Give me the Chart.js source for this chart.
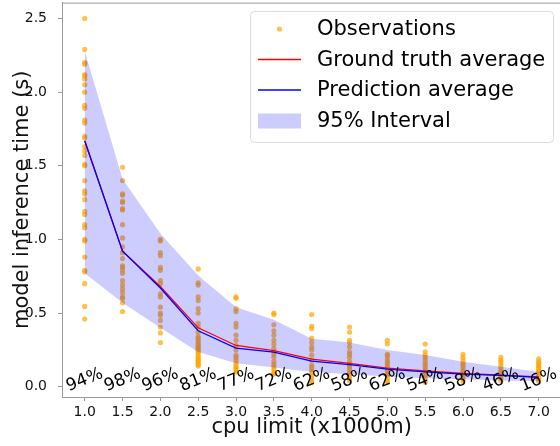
<!DOCTYPE html>
<html>
<head>
<meta charset="utf-8">
<script src="https://cdn.jsdelivr.net/npm/chart.js@4.4.1/dist/chart.umd.min.js"></script>
<style>
html,body{margin:0;padding:0;overflow:hidden;background:#fff;width:560px;height:446px;}
canvas{display:block;}
</style>
</head>
<body>
<canvas id="c" width="564" height="446"></canvas>
<script>
// ---- data ----
const cpuLimits = [1.0,1.5,2.0,2.5,3.0,3.5,4.0,4.5,5.0,5.5,6.0,6.5,7.0];
const xTicks = [1.0,1.5,2.0,2.5,3.0,3.5,4.0,4.5,5.0,5.5,6.0,6.5,7.0];
const yTicks = [0.0,0.5,1.0,1.5,2.0,2.5];
const accuracyLabels = ["94%","98%","96%","81%","77%","72%","62%","58%","62%","54%","58%","46%","16%"];
const groundTruthAvg = [1.67,0.92,0.68,0.40,0.28,0.245,0.187,0.158,0.126,0.108,0.09,0.079,0.066];
const predictionAvg  = [1.67,0.92,0.67,0.38,0.262,0.235,0.174,0.15,0.12,0.101,0.086,0.077,0.064];
const intervalUpper  = [2.28,1.41,1.04,0.755,0.54,0.455,0.325,0.30,0.25,0.215,0.17,0.135,0.10];
const intervalLower  = [0.77,0.57,0.40,0.235,0.16,0.13,0.10,0.085,0.07,0.057,0.05,0.043,0.038];
const obs10 = [2.50,2.29,2.20,2.19,2.12,2.11,2.09,2.05,2.00,1.91,1.89,1.81,1.79,1.70,1.69,1.63,1.60,1.57,1.51,1.50,1.40,1.33,1.31,1.27,1.19,1.17,1.10,1.08,1.00,0.99,0.88,0.79,0.78,0.70,0.545,0.46];
const obs15 = [1.49,1.40,1.31,1.30,1.26,1.25,1.21,1.20,1.10,1.01,0.95,0.91,0.87,0.82,0.81,0.79,0.77,0.72,0.69,0.665,0.64,0.61,0.60,0.57,0.51];
const obs20 = [1.00,0.99,0.91,0.89,0.81,0.79,0.72,0.70,0.63,0.61,0.54,0.50,0.485,0.45,0.405,0.365,0.30];
const obs25 = [0.80,0.705,0.69,0.61,0.585,0.53,0.50,0.43,0.405,0.37,0.34,0.33,0.315,0.30,0.29,0.28,0.27,0.26,0.25,0.24,0.226,0.21,0.20,0.19,0.18,0.17,0.158,0.15,0.14];
const obs30 = [0.61,0.60,0.53,0.51,0.43,0.405,0.35,0.315,0.28,0.25,0.214,0.20,0.18,0.16,0.146,0.13,0.124,0.11,0.10];
const obs35 = [0.50,0.49,0.42,0.38,0.35,0.315,0.29,0.26,0.237,0.22,0.20,0.17,0.15,0.135,0.12,0.10,0.09,0.086];
const obs40 = [0.49,0.41,0.395,0.33,0.30,0.27,0.25,0.214,0.18,0.146,0.13,0.113,0.10,0.08,0.06,0.045,0.027];
const obs45 = [0.405,0.37,0.315,0.30,0.27,0.237,0.22,0.20,0.17,0.15,0.135,0.12,0.10,0.085,0.068,0.055,0.04];
const obs50 = [0.315,0.29,0.22,0.21,0.19,0.17,0.158,0.14,0.124,0.11,0.09,0.075,0.057,0.04,0.027];
const obs55 = [0.29,0.237,0.214,0.20,0.18,0.16,0.146,0.13,0.113,0.10,0.08,0.065,0.045,0.03];
const obs60 = [0.22,0.20,0.18,0.16,0.146,0.13,0.113,0.10,0.08,0.065,0.05,0.035];
const obs65 = [0.20,0.18,0.165,0.146,0.13,0.113,0.10,0.08,0.07,0.057,0.04];
const obs70 = [0.19,0.17,0.16,0.146,0.135,0.124,0.11,0.10,0.09,0.08,0.065,0.05,0.035];
const observationColumns = [obs10,obs15,obs20,obs25,obs30,obs35,obs40,obs45,obs50,obs55,obs60,obs65,obs70];

// ---- build datasets ----
const obsPoints = [];
observationColumns.forEach((col, i) => col.forEach(v => obsPoints.push({x: cpuLimits[i], y: v})));
const toXY = arr => arr.map((v, i) => ({x: cpuLimits[i], y: v}));

const FONT = "'DejaVu Sans', sans-serif";
const OBS_COLOR = 'rgba(255,165,0,0.7)';
const BAND_COLOR = 'rgba(0,0,255,0.2)';

const overlay = {
  id: 'overlay',
  afterDatasetsDraw(chart) {
    const ctx = chart.ctx, xs = chart.scales.x, ys = chart.scales.y;
    ctx.save();
    ctx.fillStyle = '#000';
    ctx.font = '17px ' + FONT;
    ctx.textAlign = 'center';
    ctx.textBaseline = 'middle';
    accuracyLabels.forEach((t, i) => {
      ctx.save();
      ctx.translate(xs.getPixelForValue(cpuLimits[i]), ys.getPixelForValue(0.045));
      ctx.rotate(-22 * Math.PI / 180);
      ctx.fillText(t, 0, 0);
      ctx.restore();
    });
    ctx.restore();
  },
  afterDraw(chart) {
    const ctx = chart.ctx, ca = chart.chartArea;
    ctx.save();
    ctx.strokeStyle = '#999';
    ctx.lineWidth = 1;
    ctx.beginPath();
    ctx.moveTo(ca.left, ca.top + 0.5);
    ctx.lineTo(ca.right, ca.top + 0.5);
    ctx.stroke();
    // legend
    const bx = 250.5, by = 11.5, bw = 303, bh = 131, r = 4;
    ctx.beginPath();
    ctx.roundRect(bx, by, bw, bh, r);
    ctx.fillStyle = 'rgba(255,255,255,0.8)';
    ctx.fill();
    ctx.strokeStyle = '#dcdcdc';
    ctx.stroke();
    const rows = [29, 59.5, 90, 121];
    const hx0 = 258, hx1 = 301;
    ctx.fillStyle = OBS_COLOR;
    ctx.beginPath();
    ctx.arc((hx0 + hx1) / 2, rows[0], 2.6, 0, Math.PI * 2);
    ctx.fill();
    ctx.lineWidth = 1.3;
    ctx.strokeStyle = '#ff0000';
    ctx.beginPath(); ctx.moveTo(hx0, rows[1]); ctx.lineTo(hx1, rows[1]); ctx.stroke();
    ctx.strokeStyle = '#0000ff';
    ctx.beginPath(); ctx.moveTo(hx0, rows[2]); ctx.lineTo(hx1, rows[2]); ctx.stroke();
    ctx.fillStyle = BAND_COLOR;
    ctx.fillRect(hx0, rows[3] - 7.5, hx1 - hx0, 15);
    ctx.fillStyle = '#000';
    ctx.font = '21px ' + FONT;
    ctx.textAlign = 'left';
    ctx.textBaseline = 'middle';
    const names = ['Observations', 'Ground truth average', 'Prediction average', '95% Interval'];
    names.forEach((n, i) => ctx.fillText(n, 317, rows[i] + 1));
    ctx.restore();
  }
};

new Chart(document.getElementById('c'), {
  type: 'scatter',
  data: {
    datasets: [
      { label: 'Observations', data: obsPoints, order: 4,
        backgroundColor: OBS_COLOR, borderWidth: 0, pointRadius: 2.6, pointHoverRadius: 2.6 },
      { label: 'lower', data: toXY(intervalLower), order: 3, type: 'line', showLine: true,
        borderWidth: 0, borderColor: 'rgba(0,0,0,0)', pointRadius: 0, fill: false, tension: 0 },
      { label: '95% Interval', data: toXY(intervalUpper), order: 3, type: 'line', showLine: true,
        borderWidth: 0, borderColor: 'rgba(0,0,0,0)', pointRadius: 0, fill: '-1',
        backgroundColor: BAND_COLOR, tension: 0 },
      { label: 'Ground truth average', data: toXY(groundTruthAvg), order: 2, type: 'line', showLine: true,
        borderColor: '#ff0000', borderWidth: 1.3, pointRadius: 0, fill: false, tension: 0 },
      { label: 'Prediction average', data: toXY(predictionAvg), order: 1, type: 'line', showLine: true,
        borderColor: '#0000ff', borderWidth: 1.3, pointRadius: 0, fill: false, tension: 0 }
    ]
  },
  options: {
    responsive: false,
    devicePixelRatio: 1,
    animation: false,
    events: [],
    layout: { padding: { top: 1, left: 0, right: 0, bottom: 0 } },
    plugins: {
      legend: { display: false },
      tooltip: { enabled: false },
      filler: { drawTime: 'beforeDatasetDraw' }
    },
    scales: {
      x: {
        type: 'linear', min: 0.7, max: 7.3,
        afterBuildTicks: s => { s.ticks = xTicks.map(v => ({value: v})); },
        afterFit: s => { s.height = 49; s.paddingLeft = 0; s.paddingRight = 0; },
        grid: { display: true, drawOnChartArea: false, drawTicks: true, tickLength: 4, color: '#999' },
        border: { display: true, color: '#999', width: 1 },
        ticks: { color: '#111', font: { family: FONT, size: 14 }, padding: 3, maxRotation: 0,
                 callback: v => Number(v).toFixed(1) },
        title: { display: true, text: 'cpu limit (x1000m)', color: '#111',
                 font: { family: FONT, size: 21 }, padding: { top: 0, bottom: 6 } }
      },
      y: {
        type: 'linear', min: -0.0697, max: 2.608,
        afterBuildTicks: s => { s.ticks = yTicks.map(v => ({value: v})); },
        afterFit: s => { s.width = 62; s.paddingTop = 0; s.paddingBottom = 0; },
        grid: { display: true, drawOnChartArea: false, drawTicks: true, tickLength: 4, color: '#999' },
        border: { display: true, color: '#999', width: 1 },
        ticks: { color: '#111', font: { family: FONT, size: 14 }, padding: 11,
                 callback: v => Number(v).toFixed(1) },
        title: { display: true, text: 'model inference time (s)', color: '#111',
                 font: { family: FONT, size: 21 }, padding: { top: 10, bottom: 0 } }
      }
    }
  },
  plugins: [overlay]
});
</script>
</body>
</html>
